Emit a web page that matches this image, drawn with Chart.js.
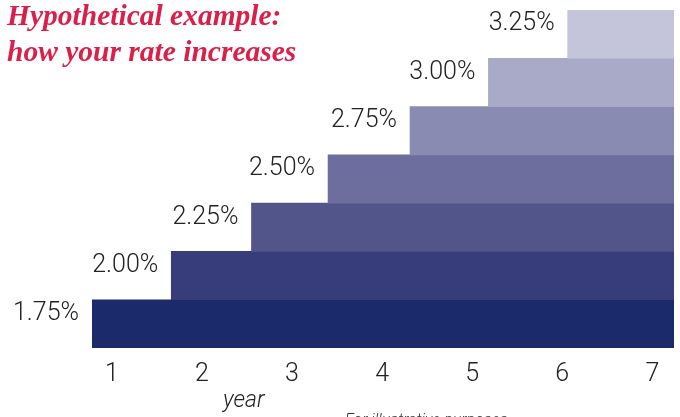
<!DOCTYPE html>
<html>
<head>
<meta charset="utf-8">
<script src="https://cdn.jsdelivr.net/npm/chart.js@4/dist/chart.umd.min.js"></script>
<style>
  html, body { margin: 0; padding: 0; background: #fff; overflow: hidden; }
  #wrap { position: relative; width: 680px; height: 417px; }
  #c { position: absolute; left: 0; top: 0; }
  .title { position: absolute; left: 7px; top: -3px; color: #dc1f4a; font-family: "Liberation Serif", "DejaVu Serif", serif; font-style: italic; font-weight: bold; font-size: 29.5px; line-height: 36px; white-space: nowrap; }
  .xtitle { position: absolute; left: 223px; top: 386px; font-family: Roboto, "Liberation Sans", sans-serif; font-style: italic; font-weight: 300; font-size: 23px; color: #222; }
  .note { position: absolute; left: 345px; top: 410px; font-family: Roboto, "Liberation Sans", sans-serif; font-style: italic; font-weight: 300; font-size: 16px; color: #333; white-space: nowrap; }
</style>
</head>
<body>
<div id="wrap">
  <canvas id="c" width="680" height="417"></canvas>
  <div class="title">Hypothetical example:<br>how your rate increases</div>
  <div class="xtitle">year</div>
  <div class="note">For illustrative purposes</div>
</div>
<script>
// ---- data ----
const years = ['1', '2', '3', '4', '5', '6', '7'];
const rateLabels = ['1.75%', '2.00%', '2.25%', '2.50%', '2.75%', '3.00%', '3.25%'];
const stepStarts = [0.78, 1.66, 2.55, 3.40, 4.31, 5.18, 6.06];
const stepEnd = 7.24;
const barColors = ['#1b2a6b', '#373d7a', '#52558a', '#6d6e9e', '#8a8bb2', '#a9a9c8', '#c4c5da'];

const labelFont = 'Roboto, "Liberation Sans", sans-serif';

const rateLabelPlugin = {
  id: 'rateLabels',
  afterDatasetsDraw(chart) {
    const ctx = chart.ctx;
    const meta = chart.getDatasetMeta(0);
    ctx.save();
    ctx.font = '300 25px ' + labelFont;
    ctx.fillStyle = '#222';
    ctx.textAlign = 'right';
    ctx.textBaseline = 'middle';
    meta.data.forEach((bar, i) => {
      ctx.fillText(rateLabels[i], bar.base - 13, bar.y - 10);
    });
    ctx.restore();
  }
};

new Chart(document.getElementById('c'), {
  type: 'bar',
  data: {
    labels: years,
    datasets: [{
      data: stepStarts.map(s => [s, stepEnd]),
      backgroundColor: barColors,
      borderWidth: 0,
      borderSkipped: false,
      categoryPercentage: 1,
      barPercentage: 1
    }]
  },
  options: {
    indexAxis: 'y',
    responsive: false,
    animation: false,
    layout: { padding: { left: 92, right: 6, top: 10, bottom: 0 } },
    plugins: { legend: { display: false }, tooltip: { enabled: false } },
    scales: {
      y: {
        type: 'category',
        reverse: true,
        display: false,
        grid: { display: false }
      },
      x: {
        type: 'linear',
        min: stepStarts[0],
        max: stepEnd,
        afterBuildTicks(scale) {
          scale.ticks = years.map(y => ({ value: Number(y) }));
        },
        afterFit(scale) { scale.height = 69; },
        grid: { display: false, drawTicks: false },
        border: { display: false },
        ticks: {
          padding: 12,
          color: '#222',
          font: { family: labelFont, size: 25, weight: '300' },
          callback: v => String(v),
          maxRotation: 0
        }
      }
    }
  },
  plugins: [rateLabelPlugin]
});
</script>
</body>
</html>
